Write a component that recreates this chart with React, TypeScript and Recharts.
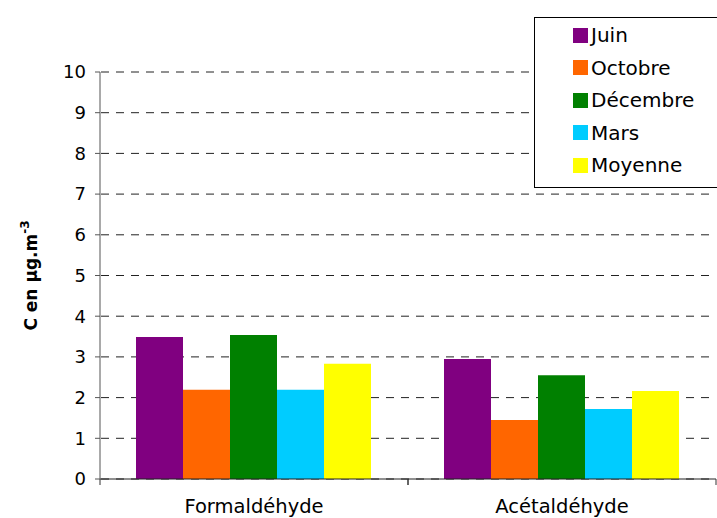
import { BarChart, Bar, XAxis, YAxis, CartesianGrid, Legend } from 'recharts';

// Concentrations by compound and sampling campaign (µg.m-3)
const compounds = ['Formaldéhyde', 'Acétaldéhyde'];
const juin = [3.49, 2.95];
const octobre = [2.19, 1.45];
const decembre = [3.54, 2.55];
const mars = [2.19, 1.72];
const moyenne = [2.83, 2.16];
const yTicks = [0, 1, 2, 3, 4, 5, 6, 7, 8, 9, 10];

const SERIES = [
    { key: 'juin', name: 'Juin', color: '#800080' },
    { key: 'octobre', name: 'Octobre', color: '#FF6600' },
    { key: 'decembre', name: 'Décembre', color: '#008000' },
    { key: 'mars', name: 'Mars', color: '#00CCFF' },
    { key: 'moyenne', name: 'Moyenne', color: '#FFFF00' },
];

const data = compounds.map((name, i) => ({
    name,
    juin: juin[i],
    octobre: octobre[i],
    decembre: decembre[i],
    mars: mars[i],
    moyenne: moyenne[i],
}));

const FONT = '"DejaVu Sans", Verdana, sans-serif';
const WIDTH = 717;
const HEIGHT = 518;
const PLOT_LEFT = 100;
const PLOT_RIGHT = 1;

// category label plus boundary tick marks on either side of the band
function CategoryTick(props: any) {
    const { x, y, payload } = props;
    const band = (WIDTH - PLOT_LEFT - PLOT_RIGHT) / compounds.length;
    return (
        <g>
            <line x1={x - band / 2} y1={y} x2={x - band / 2} y2={y + 6} stroke="#333" />
            <line x1={x + band / 2} y1={y} x2={x + band / 2} y2={y + 6} stroke="#333" />
            <text x={x} y={y + 34} textAnchor="middle" fontFamily={FONT} fontSize={19.5} fill="#000">
                {payload.value}
            </text>
        </g>
    );
}

function AxisTitle(props: any) {
    const { viewBox } = props;
    const cy = viewBox.y + viewBox.height / 2;
    const cx = 37;
    return (
        <text
            transform={`translate(${cx}, ${cy}) rotate(-90)`}
            textAnchor="middle"
            fontFamily={FONT}
            fontWeight="bold"
            fontSize={17}
            fill="#000"
        >
            C en µg.m
            <tspan fontSize={12} dy={-8}>-3</tspan>
        </text>
    );
}

function LegendBox() {
    return (
        <div
            style={{
                border: '1px solid #000',
                background: '#fff',
                width: 190,
                height: 171,
                boxSizing: 'border-box',
                paddingTop: 1,
                paddingLeft: 38,
                fontFamily: FONT,
                fontSize: 20,
                textAlign: 'left',
            }}
        >
            {SERIES.map((s) => (
                <div key={s.key} style={{ display: 'flex', alignItems: 'center', height: 32.5 }}>
                    <span style={{ width: 15, height: 15, background: s.color, marginRight: 3, display: 'inline-block' }} />
                    <span style={{ lineHeight: '20px' }}>{s.name}</span>
                </div>
            ))}
        </div>
    );
}

export default function App() {
    return (
        <div style={{ position: 'absolute', left: 0, top: 0, background: '#fff' }}>
            <BarChart
                width={WIDTH}
                height={HEIGHT}
                data={data}
                margin={{ top: 72, right: PLOT_RIGHT, bottom: 0, left: 0 }}
                barCategoryGap={36}
                barGap={0}
            >
                <CartesianGrid
                    vertical={false}
                    stroke="#222"
                    strokeDasharray="8 7"
                    strokeDashoffset={-1}
                />
                <XAxis
                    dataKey="name"
                    height={39}
                    axisLine={{ stroke: '#222' }}
                    tickLine={false}
                    tickSize={0}
                    tickMargin={0}
                    tick={<CategoryTick />}
                    interval={0}
                />
                <YAxis
                    width={PLOT_LEFT}
                    domain={[0, 10]}
                    ticks={yTicks}
                    interval={0}
                    axisLine={{ stroke: '#555' }}
                    tickLine={{ stroke: '#555' }}
                    tickSize={5}
                    tickMargin={9}
                    tick={{ fontFamily: FONT, fontSize: 18, fill: '#000' }}
                    label={<AxisTitle />}
                />
                <Legend
                    layout="horizontal"
                    verticalAlign="middle"
                    align="center"
                    content={<LegendBox />}
                    wrapperStyle={{ position: 'absolute', left: 534, top: 17, width: 190 }}
                />
                {SERIES.map((s) => (
                    <Bar key={s.key} dataKey={s.key} name={s.name} fill={s.color} isAnimationActive={false} />
                ))}
            </BarChart>
        </div>
    );
}
